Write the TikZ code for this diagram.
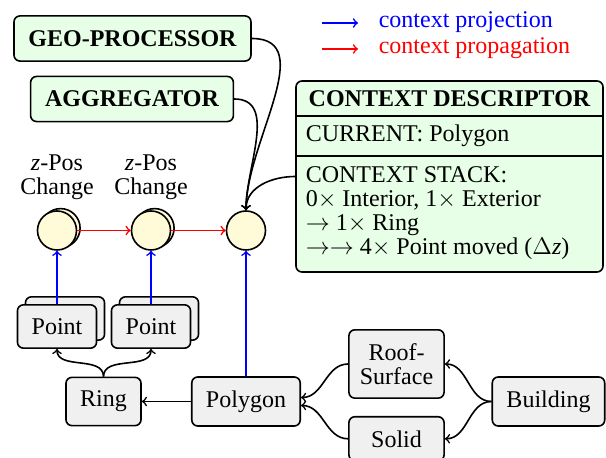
\documentclass[tikz,border=0pt]{standalone}
\usepackage{fontspec}
\setmainfont{Liberation Serif}
\usetikzlibrary{positioning,shadows}
\definecolor{mygreen}{RGB}{230,255,230}
\definecolor{mygray}{RGB}{240,240,240}
\definecolor{myyellow}{RGB}{255,250,215}

\begin{document}
\begin{tikzpicture}[x=0.5pt,y=-0.5pt,line width=0.8pt,
  font=\fontsize{12}{12}\selectfont,
  gml/.style={draw, rounded corners=3pt, fill=mygray, inner xsep=7.1pt, inner ysep=6.8pt},
  gmlmulti/.style={gml, copy shadow={fill=mygray, shadow xshift=4pt, shadow yshift=4pt}},
  proc/.style={draw, rounded corners=3pt, fill=mygreen, inner sep=7.25pt, font=\fontsize{12}{12}\selectfont\bfseries},
  ctx/.style={draw, circle, fill=myyellow, minimum size=19.5pt, inner sep=0pt},
  ctxmulti/.style={ctx, copy shadow={fill=myyellow, shadow xshift=1.8pt, shadow yshift=1.2pt}},
  descline/.style={anchor=base west, inner sep=0pt},
  proj/.style={->, blue}, prop/.style={->, red}]
\useasboundingbox (0,0) rectangle (606,458);

% Processors
\node[proc] (geo) at (132.5,38.5) {GEO-PROCESSOR};
\node[proc] (agg) at (132,99) {AGGREGATOR};

% Legend
\coordinate (projA) at (322,23);
\coordinate (projB) at (358,23);
\coordinate (propA) at (322,49);
\coordinate (propB) at (358,49);
\draw[proj] (projA) -- (projB);
\draw[prop] (propA) -- (propB);
\node[anchor=base west, inner sep=0pt, text=blue] (projtext) at (378,28) {context projection};
\node[anchor=base west, inner sep=0pt, text=red] (proptext) at (378,54) {context propagation};

% Context descriptor
\node[draw, rounded corners=3pt, fill=mygreen, minimum width=153.5pt, minimum height=95.5pt, inner sep=0pt] (desc) at (449.5,176.5) {};
\draw ([yshift=-18pt]desc.north west) -- ([yshift=-18pt]desc.north east);
\draw ([yshift=-38pt]desc.north west) -- ([yshift=-38pt]desc.north east);
\node[anchor=base, inner sep=0pt, font=\fontsize{12}{12}\selectfont\bfseries] (desctitle) at (449.5,107) {CONTEXT DESCRIPTOR};
\node[descline] (desccurrent) at (305,142) {CURRENT: Polygon};
\node[descline] (stack0) at (305,183) {CONTEXT STACK:};
\node[descline] (stack1) at (305,207) {0$\times$ Interior, 1$\times$ Exterior};
\node[descline] (stack2) at (305,231) {$\rightarrow$ 1$\times$ Ring};
\node[descline] (stack3) at (305,255) {$\rightarrow\rightarrow$ 4$\times$ Point moved ($\Delta$\textit{z})};

% Contexts
\node[ctxmulti] (c1) at (57,230.5) {};
\node[ctxmulti] (c2) at (151,230.5) {};
\node[ctx] (c3) at (246,230.5) {};
\node[above=1.5pt of c1, align=center] (c1label) {\textit{z}-Pos\\Change};
\node[above=1.5pt of c2, align=center] (c2label) {\textit{z}-Pos\\Change};

% GML objects
\node[gmlmulti] (p1) at (57,326.5) {Point};
\node[gmlmulti] (p2) at (151,326.5) {Point};
\node[gml] (ring) at (103.5,401.5) {Ring};
\node[gml] (poly) at (246,401.5) {Polygon};
\node[gml, text width=36.6pt, inner xsep=5.5pt, align=center] (roof) at (396.5,364) {Roof-\\Surface};
\node[gml, text width=36.6pt, inner xsep=5.5pt, align=center] (solid) at (396.5,438.8) {Solid};
\node[gml] (build) at (548.5,401.5) {Building};

% Context flow
\draw[prop] (c1) -- (c2);
\draw[prop] (c2) -- (c3);
\draw[proj] (p1) -- (c1);
\draw[proj] (p2) -- (c2);
\draw[proj] (poly) -- (c3);
\draw[->] (geo.east) to[out=0,in=90] (c3.north);
\draw[->] (agg.east) to[out=0,in=90] (c3.north);
\draw[->] (desc.west) to[out=180,in=90] (c3.north);

% Object hierarchy
\draw[->] (ring.north) to[out=90,in=-90] (p1.south);
\draw[->] (ring.north) to[out=90,in=-90] (p2.south);
\draw[->] (poly) -- (ring);
\draw[->] (roof.west) to[out=180,in=0] ([yshift=2pt]poly.east);
\draw[->] (solid.west) to[out=180,in=0] ([yshift=-2pt]poly.east);
\draw[->] (build.west) to[out=180,in=0] (roof.east);
\draw[->] (build.west) to[out=180,in=0] (solid.east);
\end{tikzpicture}
\end{document}
